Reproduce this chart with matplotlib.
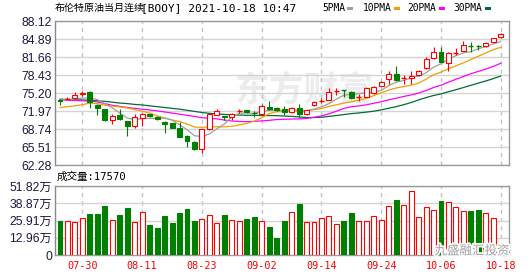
import matplotlib
matplotlib.use('Agg')
import matplotlib.pyplot as plt
import matplotlib.patheffects as pe
from matplotlib.patches import Rectangle
import numpy as np

# --- data ----------------------------------------------------------------
tick_pos = [3, 11, 19, 27, 35, 43, 51, 59]
tick_labels = ['07-30', '08-11', '08-23', '09-02', '09-14', '09-24', '10-06', '10-18']

opens = [74.0, 74.0, 74.25, 75.1, 75.4, 73.05, 72.3, 70.35, 71.25, 70.2,
         69.3, 70.8, 71.45, 70.95, 70.05, 69.77, 68.87, 67.54, 66.47, 65.1,
         68.7, 71.3, 71.07, 70.84, 71.95, 72.15, 71.55, 71.38, 72.75, 72.45,
         72.3, 71.85, 72.45, 71.44, 73.0, 73.75, 73.95, 75.55, 75.65, 75.4,
         74.5, 74.55, 75.15, 76.5, 77.7, 78.55, 77.8, 77.83, 78.43, 79.6,
         81.4, 82.6, 80.5, 82.4, 82.8, 83.65, 83.55, 83.6, 84.4, 85.2]
highs = [74.1, 74.4, 75.3, 75.6, 75.5, 73.2, 72.4, 71.4, 72.28, 70.25,
         71.4, 71.6, 71.5, 71.0, 70.1, 69.9, 69.95, 67.6, 66.5, 68.8,
         71.6, 72.3, 71.1, 71.6, 72.4, 72.2, 72.0, 73.3, 73.7, 72.6,
         72.85, 72.7, 73.2, 72.2, 73.7, 74.25, 76.05, 76.05, 75.7, 75.5,
         75.1, 76.2, 76.4, 77.3, 79.1, 80.1, 78.4, 79.2, 79.3, 81.7,
         83.4, 83.5, 82.5, 83.2, 84.6, 84.3, 83.8, 84.3, 85.1, 85.9]
lows = [73.1, 73.9, 74.2, 74.6, 72.5, 71.25, 70.2, 69.7, 70.4, 67.5,
        68.9, 69.2, 70.9, 70.3, 68.1, 68.9, 67.3, 65.57, 65.0, 64.5,
        68.6, 71.2, 70.35, 70.4, 71.7, 71.7, 70.85, 71.3, 72.2, 72.0,
        71.25, 71.7, 70.95, 71.3, 72.9, 73.4, 73.9, 74.9, 74.55, 74.1,
        73.8, 74.5, 75.1, 76.4, 76.9, 77.4, 76.9, 76.9, 78.3, 79.5,
        81.3, 80.7, 79.2, 82.0, 82.7, 82.6, 82.9, 83.5, 84.3, 85.1]
closes = [73.8, 74.1, 74.8, 75.2, 73.6, 72.46, 70.35, 71.07, 70.5, 69.2,
          70.9, 71.5, 71.1, 70.45, 69.6, 69.0, 67.36, 66.65, 65.1, 68.7,
          71.5, 72.0, 70.84, 71.5, 72.0, 71.74, 71.45, 72.87, 72.3, 72.15,
          71.74, 72.57, 71.5, 72.15, 73.6, 73.8, 75.4, 75.6, 75.6, 74.25,
          74.55, 76.05, 76.3, 77.2, 78.55, 77.5, 77.83, 78.3, 79.15, 81.3,
          82.6, 80.8, 82.43, 82.45, 83.8, 83.6, 83.5, 84.2, 85.0, 85.8]

ma5 = [74.0, 74.0, 74.1, 74.3, 74.3, 74.03, 73.28, 72.54, 71.6, 70.72,
       70.4, 70.63, 70.64, 70.63, 70.71, 70.33, 69.5, 68.61, 67.54, 67.36,
       67.86, 68.79, 69.63, 70.91, 71.57, 71.62, 71.51, 71.91, 72.07, 72.1,
       72.1, 72.33, 72.05, 72.02, 72.31, 72.72, 73.29, 74.11, 74.8, 74.93,
       75.08, 75.21, 75.35, 75.67, 76.53, 77.12, 77.48, 77.88, 78.27, 78.82,
       79.84, 80.43, 81.26, 81.91, 82.41, 82.61, 83.15, 83.51, 84.02, 84.42]
ma10 = [72.6, 72.75, 72.9, 73.1, 73.4, 73.3, 73.0, 72.85, 72.7, 72.51,
        72.22, 71.96, 71.59, 71.11, 70.71, 70.37, 70.07, 69.63, 69.09, 69.04,
        69.1, 69.15, 69.12, 69.23, 69.47, 69.74, 70.15, 70.77, 71.49, 71.84,
        71.86, 71.92, 71.98, 72.05, 72.21, 72.41, 72.81, 73.08, 73.41, 73.62,
        73.9, 74.25, 74.73, 75.24, 75.73, 76.1, 76.34, 76.61, 76.97, 77.67,
        78.48, 78.95, 79.57, 80.09, 80.61, 81.22, 81.79, 82.38, 82.97, 83.42]
ma20 = [73.95, 73.9, 73.85, 73.8, 73.75, 73.6, 73.3, 73.0, 72.8, 72.6,
        72.45, 72.3, 72.15, 72.0, 71.8, 71.6, 71.4, 71.2, 71.0, 70.77,
        70.66, 70.55, 70.35, 70.17, 70.09, 70.05, 70.11, 70.2, 70.29, 70.44,
        70.48, 70.53, 70.55, 70.64, 70.84, 71.08, 71.48, 71.93, 72.45, 72.73,
        72.88, 73.08, 73.36, 73.64, 73.97, 74.26, 74.58, 74.85, 75.19, 75.65,
        76.19, 76.6, 77.15, 77.66, 78.17, 78.66, 79.07, 79.5, 79.97, 80.54]
ma30 = [74.1, 74.05, 74.0, 73.95, 73.9, 73.8, 73.7, 73.55, 73.4, 73.3,
        73.15, 73.05, 72.9, 72.75, 72.6, 72.45, 72.3, 72.1, 71.9, 71.7,
        71.55, 71.45, 71.35, 71.3, 71.25, 71.2, 71.2, 71.15, 71.15, 71.13,
        71.06, 71.01, 70.9, 70.8, 70.8, 70.84, 71.01, 71.16, 71.33, 71.5,
        71.62, 71.77, 71.94, 72.17, 72.47, 72.75, 73.1, 73.49, 73.96, 74.38,
        74.75, 75.04, 75.43, 75.79, 76.18, 76.58, 76.98, 77.36, 77.78, 78.24]

# volume in 10k (万)
volume = [25.5, 25.3, 24.8, 27.5, 30.8, 30.8, 36.8, 26.0, 30.0, 35.3,
          24.8, 32.3, 22.5, 20.3, 29.3, 24.0, 31.5, 34.5, 25.5, 26.8,
          29.8, 24.0, 30.0, 26.0, 25.3, 27.0, 28.5, 25.3, 21.0, 12.8,
          25.5, 32.0, 38.3, 24.8, 24.8, 27.5, 29.0, 23.3, 25.5, 31.5,
          25.5, 25.5, 29.0, 26.3, 36.8, 41.3, 37.5, 48.1, 28.5, 36.0,
          33.8, 40.6, 39.8, 36.0, 33.0, 33.0, 33.8, 31.5, 27.8, 1.757]

price_ticks = [62.28, 65.51, 68.74, 71.97, 75.20, 78.43, 81.66, 84.89, 88.12]
vol_ticks = [0, 12.96, 25.91, 38.87, 51.82]
vol_labels = ['0', '12.96万', '25.91万', '38.87万', '51.82万']

RED = '#ff0000'
GREEN = '#008000'
W, H = 530, 276


def fx(x):
    return x / W


def fy(y):
    return 1 - y / H


fig = plt.figure(figsize=(5.3, 2.76), dpi=100)
fig.patch.set_facecolor('white')

ax = fig.add_axes([fx(55), fy(165), 454 / W, 144 / H])
axv = fig.add_axes([fx(55), fy(255), 454 / W, 69 / H])

o = np.array(opens)
c = np.array(closes)
hi = np.array(highs)
lo = np.array(lows)
x = np.arange(len(c))
bw = 0.66

for a in (ax, axv):
    a.set_xlim(-0.67, 60.1)
    for s in a.spines.values():
        s.set_color('#9a9a9a')
        s.set_linewidth(1)
    a.spines['left'].set_color('#888888')
    a.set_xticks(tick_pos)
    a.tick_params(length=0)
    a.grid(axis='y', color='#d4d4d4', lw=1, ls='-')
    a.grid(axis='x', color='#c4c4c4', lw=1, ls=(0, (3, 3)))
    a.set_axisbelow(True)

# watermark
ax.text(0.55, 0.52, '东方财富', transform=ax.transAxes, ha='center', va='center',
        fontsize=25, color='#ececec', family='Noto Sans CJK SC', fontweight='bold', zorder=0)

# moving averages
ax.plot(x, ma30, color='#006b36', lw=0.9, zorder=2)
ax.plot(x, ma20, color='#ff00ff', lw=0.9, zorder=2)
ax.plot(x, ma10, color='#f0a000', lw=0.9, zorder=2)
ax.plot(x, ma5, color='#a0a0a0', lw=0.9, zorder=2)

# candles
for i in x:
    top, bot = max(o[i], c[i]), min(o[i], c[i])
    if c[i] >= o[i]:
        ax.vlines(i, top, hi[i], color=RED, lw=0.8, zorder=3)
        ax.vlines(i, lo[i], bot, color=RED, lw=0.8, zorder=3)
        if top - bot < 0.1:
            ax.hlines(top, i - bw / 2, i + bw / 2, color=RED, lw=1, zorder=3)
        else:
            ax.add_patch(Rectangle((i - bw / 2, bot), bw, top - bot, fc='white',
                                   ec=RED, lw=0.8, zorder=3))
    else:
        ax.vlines(i, lo[i], hi[i], color=GREEN, lw=0.8, zorder=3)
        if top - bot < 0.1:
            ax.hlines(top, i - bw / 2, i + bw / 2, color=GREEN, lw=1, zorder=3)
        else:
            ax.add_patch(Rectangle((i - bw / 2, bot), bw, top - bot, fc=GREEN,
                                   ec=GREEN, lw=0.8, zorder=3))

ax.set_ylim(price_ticks[0], price_ticks[-1])
ax.set_yticks(price_ticks)
ax.set_yticklabels(['%.2f' % v for v in price_ticks], family='Liberation Sans',
                   fontsize=8.7, color='#1a1a40')
ax.set_xticklabels([])
ax.tick_params(axis='y', pad=2)

# volume
up = c >= o
axv.bar(x, volume, width=bw, color=np.where(up, 'white', GREEN),
        edgecolor=np.where(up, RED, GREEN), lw=0.8, zorder=3)
axv.set_ylim(0, vol_ticks[-1])
axv.set_yticks(vol_ticks)
axv.set_yticklabels(vol_labels, family=['Liberation Sans', 'Noto Sans CJK SC'],
                    fontsize=8.7, color='#1a1a40')
axv.set_xticklabels(tick_labels, family='DejaVu Sans Mono', fontsize=7.3, color=RED)
axv.tick_params(axis='y', pad=2)
axv.tick_params(axis='x', pad=4)

# header texts
fig.text(fx(55), fy(8), '布伦特原油当月连续', family='Noto Sans CJK SC', fontsize=7.2,
         va='center', ha='left', color='black')
fig.text(fx(141), fy(8), '[BOOY] 2021-10-18 10:47', family='DejaVu Sans Mono',
         fontsize=8, va='center', ha='left', color='black')

legend = [('5PMA', 322, 347, '#a0a0a0'), ('10PMA', 363, 394, '#f0a000'),
          ('20PMA', 407, 439, '#ff00ff'), ('30PMA', 453, 485, '#006b36')]
for name, tx, sx, col in legend:
    fig.text(fx(tx), fy(8), name, family='DejaVu Sans Mono', fontsize=6.9,
             va='center', ha='left', color='black')
    fig.add_artist(Rectangle((fx(sx), fy(10)), 6 / W, 3 / H, transform=fig.transFigure,
                             fc=col, ec='none'))

fig.text(fx(57), fy(177), '成交量:17570', family=['DejaVu Sans Mono', 'Noto Sans CJK SC'],
         fontsize=7.6, va='center', ha='left', color='black')

fig.text(fx(472), fy(251), '九盛融汇投资', family='Noto Sans CJK SC', fontsize=9,
         va='center', ha='center', color='#a0a0a0', zorder=5,
         path_effects=[pe.withStroke(linewidth=2.5, foreground='white')])

fig.savefig('out.png', dpi=100, facecolor='white')
